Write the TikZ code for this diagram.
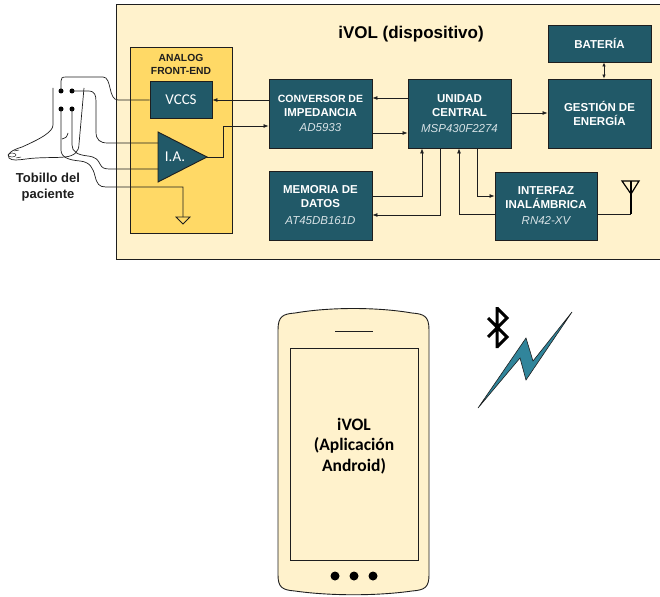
\documentclass[tikz,border=0pt]{standalone}
\usepackage{fontspec}
\setmainfont{Liberation Sans}
\newfontfamily\calibrifont{Carlito}
\usetikzlibrary{arrows.meta,calc}

\definecolor{devfill}{RGB}{255,242,204}
\definecolor{afefill}{RGB}{255,217,102}
\definecolor{blockfill}{RGB}{33,89,104}
\definecolor{boltfill}{RGB}{49,133,155}
\definecolor{edge}{RGB}{30,30,30}
\definecolor{parttxt}{RGB}{215,226,230}

% part number line inside a block
\newcommand{\partno}[1]{{\fontsize{11.5}{14}\selectfont\mdseries\itshape\color{parttxt}#1}}

\begin{document}
\begin{tikzpicture}[x=1pt,y=-1pt,
  block/.style={draw=edge, line width=0.9pt, fill=blockfill, text=white,
    align=center, inner sep=0pt, minimum width=103pt, minimum height=69pt,
    font=\fontsize{11.5}{14}\selectfont\bfseries},
  wire/.style={draw=edge, line width=0.7pt},
  arr/.style={wire, -{Latex[length=5pt,width=4pt]}},
  outline/.style={draw=edge, line width=0.7pt},
  electrode/.style={circle, fill=black, inner sep=0pt, minimum size=5pt},
]
\useasboundingbox (0,0) rectangle (660,596);

% ---------- device enclosure ----------
\draw[fill=devfill, draw=edge, line width=0.8pt] (116,4) rectangle (670,259);
\node[font=\fontsize{17}{20}\selectfont\bfseries] (title) at (411,34) {iVOL (dispositivo)};

% ---------- analog front-end ----------
\draw[fill=afefill, draw=edge, line width=0.8pt] (130,47) rectangle (232,233);
\node[font=\fontsize{10.3}{13}\selectfont\bfseries, align=center, text=edge] (afelbl) at (181,64.5) {ANALOG\\FRONT-END};
\node[draw=edge, line width=0.9pt, fill=blockfill, text=white, minimum width=62pt, minimum height=37pt,
      inner sep=0pt, font=\calibrifont\fontsize{15}{18}\selectfont] (vccs) at (181,100) {VCCS};

% instrumentation amplifier
\draw[fill=blockfill, draw=edge, line width=0.9pt] (158,132) -- (207,157) -- (158,182) -- cycle;
\node[text=white, font=\calibrifont\fontsize{15}{18}\selectfont] (ia) at (175,157) {I.A.};
\coordinate (iain1) at (158,143);
\coordinate (iain2) at (158,169);
\coordinate (iaout) at (207,157);

% ground symbol
\coordinate (gnd) at (183,217);
\draw[fill=afefill, draw=edge, line width=0.8pt] (176,217) -- (190,217) -- (183,224) -- cycle;

% ---------- functional blocks ----------
\node[block] (conv) at (320.5,113.5) {\fontsize{10.5}{12.5}\selectfont CONVERSOR DE\\IMPEDANCIA\\[1.5pt]\partno{AD5933}};
\node[block] (cpu) at (459.5,113.5) {UNIDAD\\CENTRAL\\[2pt]\partno{MSP430F2274}};
\node[block] (mem) at (320.5,205.5) {MEMORIA DE\\DATOS\\[3pt]\partno{AT45DB161D}};
\node[block, minimum width=102pt, minimum height=68pt] (wifi) at (546,206) {INTERFAZ\\INALÁMBRICA\\[2pt]\partno{RN42-XV}};
\node[block, minimum height=37pt] (bat) at (599.5,43.5) {BATERÍA};
\node[block] (pwr) at (599.5,113.5) {GESTIÓN DE\\ENERGÍA};

% ---------- data paths ----------
\draw[arr] (cpu.west |- 0,98) -- (conv.east |- 0,98);
\draw[arr] (conv.east |- 0,133) -- (cpu.west |- 0,133);
\draw[arr] (conv.west |- 0,100) -- (vccs.east);
\draw[arr] (iaout) -- (223,157) -- (223,126) -- (conv.west |- 0,126);
\draw[arr] (mem.east |- 0,196) -| (cpu.south -| 422,0);
\draw[arr] (cpu.south -| 440,0) |- (mem.east |- 0,215);
\draw[arr] (wifi.west |- 0,214) -| (cpu.south -| 459,0);
\draw[arr] (cpu.south -| 477,0) |- (wifi.west |- 0,196);
\draw[arr] (cpu.east |- 0,113) -- (pwr.west |- 0,113);
\draw[wire, {Latex[length=4pt,width=3.5pt]}-{Latex[length=4pt,width=3.5pt]}] (bat.south -| 604,0) -- (pwr.north -| 604,0);

% antenna
\coordinate (ant) at (631,181);
\draw[draw=edge, line width=0.7pt] (wifi.east |- 0,214) -- (631,214);
\draw[black, line width=1.4pt] (631,214) -- (ant);
\draw[black, line width=1.2pt, line join=miter] (622,181) -- (639,181) -- (631,194) -- cycle;

% ---------- ankle with electrodes ----------
% leg and foot outline
\draw[outline] (53,88) -- (53,125)
   .. controls (53,132) and (40,139) .. (22,147)
   .. controls (12,150) and (6,154) .. (9,158)
   .. controls (12,161) and (18,160) .. (26,159)
   .. controls (40,157) and (55,158) .. (65,157)
   .. controls (74,156) and (79,152) .. (79,144)
   -- (84,88);
\draw[outline, line width=0.5pt] (12,155) ellipse [x radius=4pt, y radius=2pt];
\draw[outline, line width=0.5pt] (14,151) -- (19,150) (16,158) -- (21,157);
\draw[outline] (62,139) .. controls (65,139) and (67,137) .. (68,133);

\node[electrode] (e1) at (61,91) {};
\node[electrode] (e2) at (72,91) {};
\node[electrode] (e3) at (61,109) {};
\node[electrode] (e4) at (72,109) {};

% current injection pair
\draw[wire] (e1.center) -- (61,81) .. controls (61,78) and (62,77) .. (66,77) -- (103,77)
   .. controls (112,77) and (108,100) .. (118,100) -- (vccs.west);
% sensing pair
\draw[wire] (e2.center) -- (88,91) .. controls (95,91) and (96,95) .. (96,102) -- (96,132)
   .. controls (96,140) and (100,143) .. (108,143) -- (iain1);
\draw[wire] (e4.center) -- (72,145) .. controls (72,152) and (78,155) .. (88,156)
   .. controls (96,157) and (98,160) .. (100,164) .. controls (102,168) and (104,169) .. (110,169) -- (iain2);
% reference electrode
\draw[wire] (e3.center) -- (61,150) .. controls (61,157) and (68,160) .. (80,161)
   .. controls (90,162) and (93,168) .. (95,176) .. controls (97,184) and (99,187) .. (106,187)
   -- (183,187) -- (gnd);

\node[font=\fontsize{13}{16}\selectfont\bfseries, align=center, text=edge] (ankle) at (48,187) {Tobillo del\\paciente};

% ---------- smartphone ----------
\draw[fill=devfill, draw=edge, line width=0.9pt]
  (278,330) -- (278,575)
  .. controls (278,588) and (283,590) .. (295,591)
  .. controls (330,596) and (377,596) .. (412,591)
  .. controls (424,590) and (429,588) .. (429,575)
  -- (429,330)
  .. controls (429,316) and (424,314) .. (412,313)
  .. controls (377,307) and (330,307) .. (295,313)
  .. controls (283,314) and (278,316) .. (278,330) -- cycle;
\node[draw=edge, line width=0.8pt, minimum width=128pt, minimum height=212pt, inner sep=0pt] (screen) at (354,454) {};
\draw[edge, line width=0.8pt] (335,331) -- (373,331);
\foreach \px in {335,354,373} \fill[black] (\px,576) circle (4.5pt);
\node[font=\calibrifont\fontsize{17.5}{20.5}\selectfont\bfseries, align=center, text=black] (app) at (354,446)
  {iVOL\\(Aplicación\\Android)};

% ---------- wireless link ----------
\draw[fill=boltfill, draw=edge, line width=0.6pt, line join=miter]
  (478,408) -- (526,338) -- (533,361) -- (572,312) -- (526,380) -- (520,358) -- cycle;
\draw[black, line width=3pt, line join=miter, line cap=butt]
  (497,307) -- (497,348)
  (488,318) -- (507,337) -- (497,347)
  (488,337) -- (507,318) -- (497,308);
\end{tikzpicture}
\end{document}
